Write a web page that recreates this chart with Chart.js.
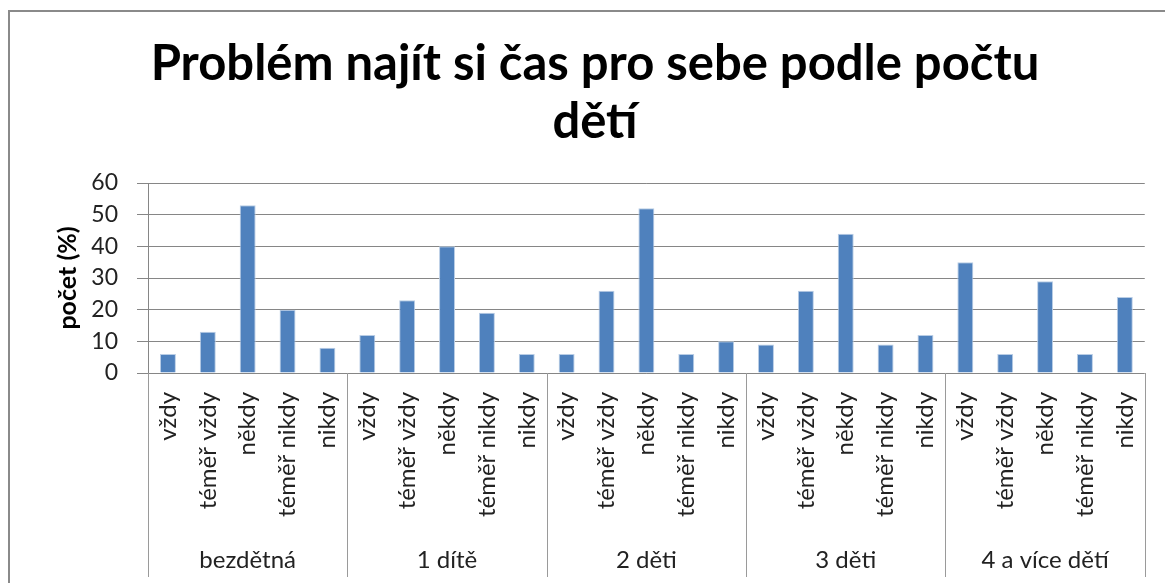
<!DOCTYPE html>
<html>
<head>
    <meta charset="utf-8">
    <title>Problém najít si čas pro sebe podle počtu dětí</title>
    <script src="https://cdn.jsdelivr.net/npm/chart.js"></script>
    <style>
        html, body {
            margin: 0;
            padding: 0;
            background: #fff;
            overflow: hidden;
        }
        #wrap {
            position: relative;
            width: 1165px;
            height: 583px;
        }
        #frame {
            position: absolute;
            left: 8px;
            top: 10px;
            width: 1300px;
            height: 700px;
            border: 2px solid #8a8a8a;
            pointer-events: none;
        }
    </style>
</head>
<body>
    <div id="wrap">
        <canvas id="barChart" width="1165" height="583"></canvas>
        <div id="frame"></div>
    </div>

    <script>
        const groups = ['bezdětná', '1 dítě', '2 děti', '3 děti', '4 a více dětí'];
        const answers = ['vždy', 'téměř vždy', 'někdy', 'téměř nikdy', 'nikdy'];

        // počet (%) per answer, one array per group
        const bezdetna = [6, 13, 53, 20, 8];
        const jednoDite = [12, 23, 40, 19, 6];
        const dveDeti = [6, 26, 52, 6, 10];
        const triDeti = [9, 26, 44, 9, 12];
        const ctyriAVice = [35, 6, 29, 6, 24];

        const yTicks = [0, 10, 20, 30, 40, 50, 60];

        const labels = groups.flatMap(() => answers);
        const values = [].concat(bezdetna, jednoDite, dveDeti, triDeti, ctyriAVice);

        const FONT = 'Lato, "Open Sans", sans-serif';
        const GRID = '#868686';

        // vertical lines between the groups, under the axis
        const groupLines = {
            id: 'groupLines',
            afterDraw(chart) {
                const x = chart.scales.x;
                const ctx = chart.ctx;
                const n = answers.length;
                ctx.save();
                ctx.strokeStyle = '#9a9a9a';
                ctx.lineWidth = 1;
                for (let i = 0; i <= groups.length; i++) {
                    const px = Math.round(x.getPixelForValue(i * n - 0.5)) + 0.5;
                    ctx.beginPath();
                    ctx.moveTo(px, chart.chartArea.bottom);
                    ctx.lineTo(px, chart.height - 6);
                    ctx.stroke();
                }
                ctx.restore();
            }
        };

        new Chart(document.getElementById('barChart'), {
            type: 'bar',
            data: {
                labels: labels,
                datasets: [{
                    data: values,
                    backgroundColor: '#4f81bd',
                    borderColor: '#b9cde5',
                    borderWidth: 1,
                    barPercentage: 0.4,
                    categoryPercentage: 1
                }]
            },
            options: {
                responsive: false,
                animation: false,
                layout: { padding: { left: 44, right: 19, top: 0, bottom: 0 } },
                plugins: {
                    legend: { display: false },
                    tooltip: { enabled: false },
                    title: {
                        display: true,
                        text: ['Problém najít si čas pro sebe podle počtu', 'dětí'],
                        color: '#000',
                        font: { family: FONT, size: 49, weight: 'bold', lineHeight: '58px' },
                        padding: { top: 35, bottom: 32 }
                    }
                },
                scales: {
                    y: {
                        min: 0,
                        max: 60,
                        afterBuildTicks: s => { s.ticks = yTicks.map(v => ({ value: v })); },
                        afterFit: s => { s.width = 104; },
                        border: { display: true, color: GRID, width: 1 },
                        grid: { color: GRID, tickLength: 11, tickColor: GRID },
                        ticks: {
                            color: '#222',
                            padding: 19,
                            font: { family: FONT, size: 23 }
                        },
                        title: {
                            display: true,
                            text: 'počet (%)',
                            color: '#000',
                            font: { family: FONT, size: 25, weight: 'bold' },
                            padding: { top: 9, bottom: 0 }
                        }
                    },
                    x: {
                        afterFit: s => { s.height = 160; },
                        border: { display: false },
                        grid: { display: false },
                        ticks: {
                            autoSkip: false,
                            minRotation: 90,
                            maxRotation: 90,
                            padding: 11,
                            color: '#222',
                            font: { family: FONT, size: 24 }
                        }
                    },
                    grp: {
                        type: 'category',
                        position: 'bottom',
                        labels: groups,
                        offset: true,
                        afterFit: s => { s.height = 50; },
                        border: { display: false },
                        grid: { display: false },
                        ticks: {
                            autoSkip: false,
                            maxRotation: 0,
                            padding: 5,
                            color: '#222',
                            font: { family: FONT, size: 24 }
                        }
                    }
                }
            },
            plugins: [groupLines]
        });
    </script>
</body>
</html>
